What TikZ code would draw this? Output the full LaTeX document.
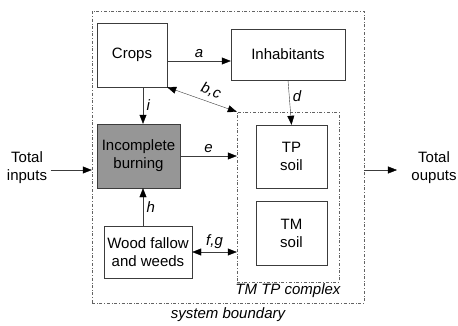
\documentclass[tikz,border=0pt]{standalone}
\usepackage{fontspec}
\setmainfont{Liberation Sans}
\usetikzlibrary{arrows.meta}

\definecolor{linegray}{RGB}{60,60,60}
\definecolor{burngray}{RGB}{150,150,150}

\newcommand{\mainsize}{\fontsize{15}{18}\selectfont}

\tikzset{
    box/.style={draw=linegray, fill=white, align=center, inner sep=0pt},
    frame/.style={draw=linegray!80, dash dot, thin},
    flow/.style={draw=linegray, -{Triangle[length=9pt,width=7pt,black]}},
    twoway/.style={draw=linegray, {Triangle[length=9pt,width=7pt,black]}-{Triangle[length=9pt,width=7pt,black]}},
    lbl/.style={font=\mainsize\itshape}
}

\begin{document}
\begin{tikzpicture}[x=1pt, y=-1pt, font=\mainsize]
    \useasboundingbox (0,0) rectangle (458,325);

    % System boundary and the soil complex
    \node[frame, minimum width=272pt, minimum height=292pt, inner sep=0pt] (boundary) at (228,157) {};
    \node[frame, minimum width=102pt, minimum height=170pt, inner sep=0pt] (complex) at (288,197) {};

    % Boxes
    \node[box, minimum width=70pt, minimum height=64pt] (crops) at (132,55) {Crops};
    \node[box, minimum width=114pt, minimum height=51pt] (inhab) at (288,54.5) {Inhabitants};
    \node[box, fill=burngray, minimum width=83pt, minimum height=64pt] (burn) at (138.5,156) {Incomplete\\burning};
    \node[box, minimum width=88pt, minimum height=52pt] (wood) at (148,252) {Wood fallow\\and weeds};
    \node[box, minimum width=71pt, minimum height=63pt] (tp) at (291.5,156.5) {TP\\soil};
    \node[box, minimum width=71pt, minimum height=64pt] (tm) at (291.5,233) {TM\\soil};

    % Inputs and outputs
    \node[align=center] (inputs) at (27,168) {Total\\inputs};
    \node[align=center] (outputs) at (434,168) {Total\\ouputs};
    \coordinate (io) at (0,170);
    \coordinate (vx) at (143,0);
    \coordinate (ay) at (0,61);

    % Flows
    \draw[flow] (inputs.east |- io) -- (boundary.west |- io);
    \draw[flow] (boundary.east |- io) -- ([xshift=-11pt]outputs.west |- io);
    \draw[flow] (crops.east |- ay) -- (inhab.west |- ay) node[midway, above, lbl] {a};
    \draw[twoway] (crops.south east) -- (complex.north west);
    \draw[flow] (crops.south -| vx) -- (burn.north -| vx) node[midway, right, lbl] {i};
    \draw[flow] (inhab.south) -- (tp.north) node[pos=0.35, right, lbl] {d};
    \draw[flow] (burn.east) -- (burn.east -| complex.west) node[midway, above, lbl] {e};
    \draw[flow] (wood.north -| vx) -- (burn.south -| vx) node[midway, right, lbl] {h};
    \draw[twoway] (wood.east) -- (wood.east -| complex.west) node[midway, above, lbl] {f,g};

    % Labels
    \node[lbl, rotate=-20] (bc) at (211,91) {b,c};
    \node[lbl] (cplx) at (288,291) {TM TP complex};
    \node[lbl] (sysb) at (228,315) {system boundary};
\end{tikzpicture}
\end{document}
